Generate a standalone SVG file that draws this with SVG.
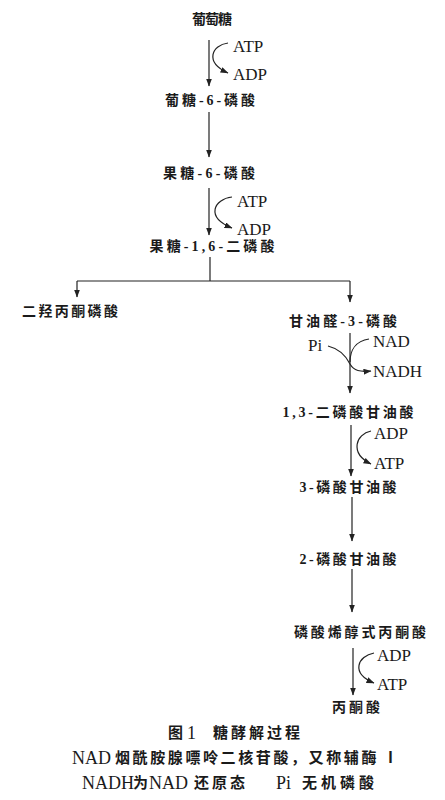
<svg xmlns="http://www.w3.org/2000/svg" width="445" height="800" viewBox="0 0 445 800">
<defs>
<marker id="ah" viewBox="0 0 8 6" refX="7.5" refY="3" markerWidth="8" markerHeight="6" markerUnits="userSpaceOnUse" orient="auto">
<path d="M0,0 L8,3 L0,6 Z" fill="#222"/>
</marker>
<style>
.n{font-family:"Liberation Serif","Noto Sans CJK SC",serif;font-size:14px;font-weight:700;fill:#1a1a1a;dominant-baseline:central;text-anchor:middle}
.c{font-family:"Liberation Serif","Noto Sans CJK SC",serif;font-size:17px;fill:#1a1a1a;dominant-baseline:central;text-anchor:start}
.cap{font-family:"Liberation Serif","Noto Sans CJK SC",serif;font-size:15px;font-weight:700;fill:#1a1a1a;dominant-baseline:central;text-anchor:start}
.lat{font-size:18px;font-weight:400}
.l{fill:none;stroke:#222;stroke-width:1.2}
</style>
</defs>
<rect width="445" height="800" fill="#fff"/>
<g id="connectors">
<line class="l" x1="209" y1="40" x2="209" y2="86" marker-end="url(#ah)"/>
<path class="l" d="M228,43 C212,45 204,62 228,73" marker-end="url(#ah)"/>
<line class="l" x1="209" y1="112" x2="209" y2="157" marker-end="url(#ah)"/>
<line class="l" x1="209" y1="188" x2="209" y2="235" marker-end="url(#ah)"/>
<path class="l" d="M232,197 C214,199 205,217 232,228" marker-end="url(#ah)"/>
<line class="l" x1="210" y1="257" x2="210" y2="281"/>
<line class="l" x1="77" y1="281" x2="350" y2="281"/>
<line class="l" x1="77" y1="281" x2="77" y2="297" marker-end="url(#ah)"/>
<line class="l" x1="350" y1="281" x2="350" y2="302" marker-end="url(#ah)"/>
<line class="l" x1="350" y1="333" x2="350" y2="393" marker-end="url(#ah)"/>
<path class="l" d="M369,339 C356,341 350,350 350,362"/>
<path class="l" d="M328,346 C340,349 346,356 350,364 C354,371 360,372 371,371" marker-end="url(#ah)"/>
<line class="l" x1="351" y1="425" x2="351" y2="476" marker-end="url(#ah)"/>
<path class="l" d="M371,431 C356,434 349,453 371,464" marker-end="url(#ah)"/>
<line class="l" x1="352" y1="497" x2="352" y2="541" marker-end="url(#ah)"/>
<line class="l" x1="352" y1="569" x2="352" y2="612" marker-end="url(#ah)"/>
<line class="l" x1="353" y1="648" x2="353" y2="695" marker-end="url(#ah)"/>
<path class="l" d="M374,653 C358,656 350,673 374,683" marker-end="url(#ah)"/>
</g>
<g id="glucose"><text class="n" x="212" y="19" textLength="40">葡萄糖</text></g>
<g id="atp1"><text class="c" x="233" y="46">ATP</text></g>
<g id="adp1"><text class="c" x="233" y="74">ADP</text></g>
<g id="g6p"><text class="n" x="210" y="100" textLength="90">葡糖-6-磷酸</text></g>
<g id="f6p"><text class="n" x="209" y="173" textLength="92">果糖-6-磷酸</text></g>
<g id="atp2"><text class="c" x="237" y="201">ATP</text></g>
<g id="adp2"><text class="c" x="237" y="229">ADP</text></g>
<g id="f16bp"><text class="n" x="212" y="246" textLength="125">果糖-1,6-二磷酸</text></g>
<g id="dhap"><text class="n" x="70" y="311" textLength="96">二羟丙酮磷酸</text></g>
<g id="g3p"><text class="n" x="343" y="321" textLength="108">甘油醛-3-磷酸</text></g>
<g id="pi"><text class="c" x="308" y="345">Pi</text></g>
<g id="nad"><text class="c" x="373" y="341">NAD</text></g>
<g id="nadh"><text class="c" x="373" y="371">NADH</text></g>
<g id="bpg13"><text class="n" x="348" y="412" textLength="131">1,3-二磷酸甘油酸</text></g>
<g id="adp3"><text class="c" x="374" y="433">ADP</text></g>
<g id="atp3"><text class="c" x="374" y="463">ATP</text></g>
<g id="pg3"><text class="n" x="348" y="487" textLength="97">3-磷酸甘油酸</text></g>
<g id="pg2"><text class="n" x="348" y="559" textLength="97">2-磷酸甘油酸</text></g>
<g id="pep"><text class="n" x="360" y="632" textLength="132">磷酸烯醇式丙酮酸</text></g>
<g id="adp4"><text class="c" x="377" y="655">ADP</text></g>
<g id="atp4"><text class="c" x="377" y="684">ATP</text></g>
<g id="pyruvate"><text class="n" x="356" y="707" textLength="48">丙酮酸</text></g>
<g id="caption">
<text class="cap" y="733"><tspan x="168">图</tspan><tspan x="187" class="lat" font-weight="700">1</tspan><tspan x="213" letter-spacing="3">糖酵解过程</tspan></text>
<text class="cap" y="758"><tspan x="72" class="lat">NAD</tspan><tspan x="115" letter-spacing="2.6">烟酰胺腺嘌呤二核苷酸，又称辅酶</tspan><tspan x="383">Ⅰ</tspan></text>
<text class="cap" y="783"><tspan x="82" class="lat">NADH</tspan><tspan x="133">为</tspan><tspan x="149" class="lat">NAD</tspan><tspan x="194" letter-spacing="3">还原态</tspan><tspan x="276" class="lat">Pi</tspan><tspan x="302" letter-spacing="4">无机磷酸</tspan></text>
</g>
</svg>
